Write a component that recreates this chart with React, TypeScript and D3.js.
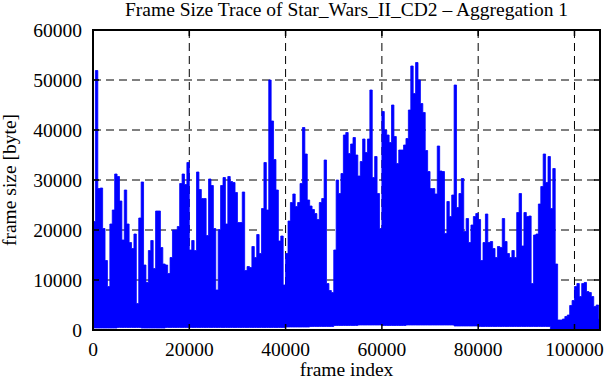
import { useMemo } from 'react';
import * as d3 from 'd3';

const BIN = 500;
const FRAME_COUNT = 105300;

const peakSizes = [
  21700, 51900, 28300, 28400, 20300, 13900, 8700, 21200, 24000, 31200,
  30700, 25800, 18000, 28000, 21200, 17500, 16300, 19200, 5300, 22400,
  29600, 13000, 9500, 15900, 17900, 12300, 23800, 23800, 16500, 13200,
  13000, 11300, 14500, 20000, 20000, 20700, 29300, 31200, 29100, 33500,
  16000, 17900, 15900, 31600, 28100, 26300, 26300, 18900, 30200, 28900,
  20300, 8000, 20100, 28900, 30500, 21200, 30700, 29700, 29500, 27500,
  21500, 21500, 27600, 11900, 12700, 12500, 16700, 14500, 19100, 15300,
  24300, 33500, 24000, 50000, 41800, 34100, 28000, 17800, 18800, 9000,
  15300, 21800, 25500, 27200, 24700, 25500, 29300, 40500, 35200, 26000,
  24800, 24100, 23300, 22100, 25500, 26300, 34000, 9300, 7900, 7500,
  16000, 30000, 27300, 31300, 39000, 39500, 35300, 37200, 38500, 35000,
  30800, 33700, 38200, 35500, 38200, 48000, 30500, 34700, 27300, 20300,
  43700, 40000, 39000, 37500, 45000, 38700, 33300, 36000, 36000, 37000,
  38300, 44000, 52800, 47300, 53500, 50000, 45300, 43500, 35900, 31700,
  28300, 28300, 27200, 36800, 31800, 31700, 19300, 25700, 22700, 27000,
  49000, 24500, 27300, 30300, 19700, 22300, 17500, 21000, 22700, 23300,
  22100, 13900, 17500, 23200, 17500, 17700, 16300, 14500, 16700, 16500,
  22300, 17700, 15300, 14500, 15900, 14500, 23500, 27300, 16800, 23500,
  22700, 22800, 9300, 19000, 19200, 25200, 28700, 35200, 29500, 34700,
  24300, 32300, 13200, 2000, 2000, 2200, 2700, 3000, 4900, 5900,
  8700, 9300, 6700, 9300, 9500, 7700, 7500, 6700, 4700, 5000,
  2300,
];

// smallest frame per 5000-frame stretch
const LOW_SPAN = 5000;
const lowSizes = [
  400, 500, 400, 500, 500, 500, 500, 500, 600, 700,
  900, 1000, 900, 1000, 1000, 800, 700, 700, 700, 100,
  100, 100,
];

const xTicks = [0, 20000, 40000, 60000, 80000, 100000];
const yTicks = [0, 10000, 20000, 30000, 40000, 50000, 60000];

const W = 613;
const H = 380;
const margin = { top: 30, right: 13, bottom: 50, left: 93 };
const FONT = '"Liberation Serif", "Times New Roman", serif';

const App = () => {
  const innerW = W - margin.left - margin.right;
  const innerH = H - margin.top - margin.bottom;

  const x = d3.scaleLinear().domain([0, FRAME_COUNT]).range([0, innerW]);
  const y = d3.scaleLinear().domain([0, 60000]).range([innerH, 0]);

  const tracePath = useMemo(() => {
    const rows = peakSizes.map((p, i) => ({
      frame: i * BIN,
      high: p,
      low: Math.min(p, lowSizes[Math.floor((i * BIN) / LOW_SPAN)] ?? 100),
    }));
    // extra point closing the last block at the right edge
    const last = rows[rows.length - 1];
    rows.push({ frame: FRAME_COUNT, high: last.high, low: last.low });
    const area = d3
      .area<{ frame: number; high: number; low: number }>()
      .x((d) => x(d.frame))
      .y0((d) => y(d.low))
      .y1((d) => y(d.high))
      .curve(d3.curveStepAfter);
    return area(rows) || '';
  }, []);

  const tickLen = 6;

  return (
    <svg
      width={W}
      height={H}
      style={{ position: 'absolute', left: 0, top: 0, background: '#fff' }}
      fontFamily={FONT}
    >
      <text x={margin.left + innerW / 2} y={16} textAnchor='middle' fontSize={19.5}>
        Frame Size Trace of Star_Wars_II_CD2 – Aggregation 1
      </text>

      <g transform={`translate(${margin.left},${margin.top})`}>
        {/* grid */}
        {yTicks.slice(1, -1).map((t) => (
          <line
            key={'gy' + t}
            x1={0}
            x2={innerW}
            y1={y(t)}
            y2={y(t)}
            stroke='#000'
            strokeWidth={1}
            strokeDasharray='8,5'
          />
        ))}
        {xTicks.slice(1).map((t) => (
          <line
            key={'gx' + t}
            x1={x(t)}
            x2={x(t)}
            y1={0}
            y2={innerH}
            stroke='#000'
            strokeWidth={1}
            strokeDasharray='8,5'
          />
        ))}

        {/* trace */}
        <path d={tracePath} fill='#0000ff' stroke='#0000ff' strokeWidth={0.8} />

        {/* ticks, mirrored on the opposite sides */}
        {yTicks.map((t) => (
          <g key={'ty' + t}>
            <line x1={0} x2={tickLen} y1={y(t)} y2={y(t)} stroke='#000' strokeWidth={1.5} />
            <line x1={innerW - tickLen} x2={innerW} y1={y(t)} y2={y(t)} stroke='#000' strokeWidth={1.5} />
            <text x={-11} y={y(t) + 6.5} textAnchor='end' fontSize={19.5}>
              {t}
            </text>
          </g>
        ))}
        {xTicks.map((t) => (
          <g key={'tx' + t}>
            <line x1={x(t)} x2={x(t)} y1={innerH} y2={innerH - tickLen} stroke='#000' strokeWidth={1.5} />
            <line x1={x(t)} x2={x(t)} y1={0} y2={tickLen} stroke='#000' strokeWidth={1.5} />
            <text x={x(t)} y={innerH + 26} textAnchor='middle' fontSize={19.5}>
              {t}
            </text>
          </g>
        ))}

        <rect x={0} y={0} width={innerW} height={innerH} fill='none' stroke='#000' strokeWidth={2} />
      </g>

      <text x={margin.left + innerW / 2} y={376} textAnchor='middle' fontSize={19.5}>
        frame index
      </text>
      <text
        transform={`translate(16,${margin.top + innerH / 2}) rotate(-90)`}
        textAnchor='middle'
        fontSize={19.5}
      >
        frame size [byte]
      </text>
    </svg>
  );
};

export default App;
